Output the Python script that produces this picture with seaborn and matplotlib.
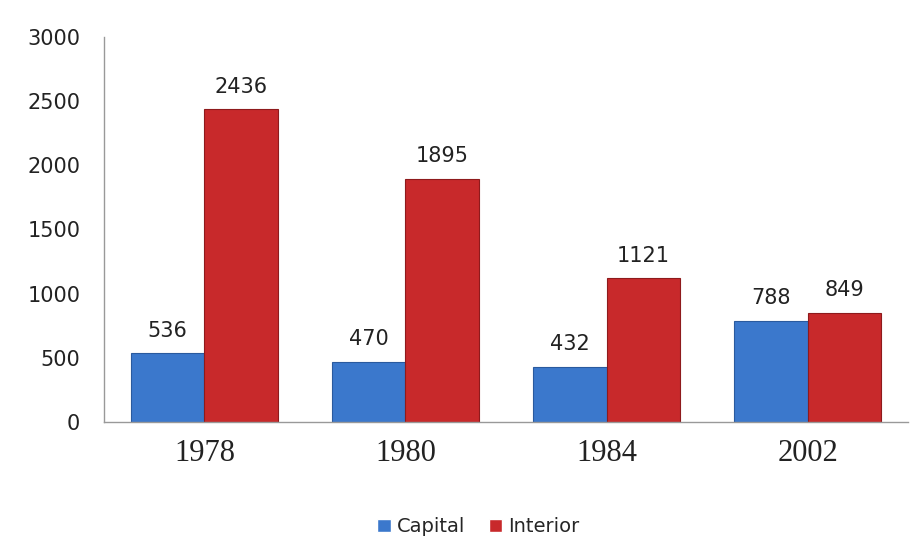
import matplotlib
matplotlib.use("Agg")
import matplotlib.pyplot as plt
import seaborn as sns
import pandas as pd

years = ["1978", "1980", "1984", "2002"]
capital = [536, 470, 432, 788]
interior = [2436, 1895, 1121, 849]
series_names = ["Capital", "Interior"]
yticks = [0, 500, 1000, 1500, 2000, 2500, 3000]

df = pd.DataFrame({
    "year": years * 2,
    "value": capital + interior,
    "series": [series_names[0]] * len(years) + [series_names[1]] * len(years),
})

sns.set_style("white")
plt.rcParams["font.family"] = ["DejaVu Sans"]

fig = plt.figure(figsize=(9.2, 5.41), dpi=100)
ax = fig.add_axes([0.113, 0.22, 0.874, 0.712])

palette = {"Capital": "#3b78cc", "Interior": "#c8292b"}
edges = {"Capital": "#2a5a9e", "Interior": "#8e1a1c"}
sns.barplot(data=df, x="year", y="value", hue="series", palette=palette,
            width=0.73, saturation=1, ax=ax, legend=True)

for cont, name in zip(ax.containers, series_names):
    for p in cont.patches:
        p.set_edgecolor(edges[name])
        p.set_linewidth(0.8)
    ax.bar_label(cont, labels=[f"{int(v)}" for v in cont.datavalues],
                 padding=9, fontsize=15, color="#222222")

ax.set_ylim(0, 3000)
ax.set_yticks(yticks)
ax.set_yticklabels([str(t) for t in yticks], fontsize=15, color="#222222")
ax.tick_params(axis="y", length=0, pad=17)
ax.tick_params(axis="x", length=0, pad=12)
for lbl in ax.get_xticklabels():
    lbl.set_fontfamily(["Liberation Serif", "DejaVu Serif"])
    lbl.set_fontsize(22)
    lbl.set_color("#222222")
ax.set_xlabel("")
ax.set_ylabel("")
ax.set_xlim(-0.5, 3.5)

for side in ["top", "right"]:
    ax.spines[side].set_visible(False)
for side in ["left", "bottom"]:
    ax.spines[side].set_color("#999999")
    ax.spines[side].set_linewidth(1)

handles, labels = ax.get_legend_handles_labels()
ax.legend_.remove()
fig.legend(handles, labels, loc="center", bbox_to_anchor=(0.52, 0.026), ncol=2,
           frameon=False, fontsize=14, handlelength=0.7, handleheight=0.7,
           handletextpad=0.3, columnspacing=1.2)

fig.savefig("out.png", dpi=100)
